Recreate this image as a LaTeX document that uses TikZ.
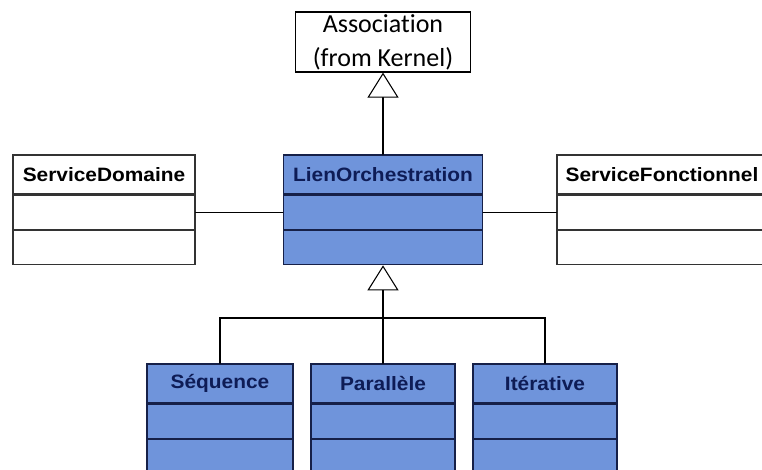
\documentclass[tikz,border=0pt]{standalone}
\usepackage{fontspec}
\usepackage{tikz}
\usetikzlibrary{arrows.meta,positioning}
\usepackage{xcolor}
\newfontfamily\clsfont{Liberation Sans}[FakeStretch=1.08]
\newfontfamily\kernfont{Carlito}[Ligatures=NoCommon]
\definecolor{clsfill}{RGB}{111,148,219}
\definecolor{clsline}{RGB}{22,32,72}
\definecolor{clstext}{RGB}{14,28,86}

\begin{document}
\begin{tikzpicture}[x=0.75pt,y=-0.75pt,line cap=round,
  gen/.style={-{Triangle[open,length=18.75pt,width=23.25pt,fill=white]},line width=0.8pt},
  namebox/.style={draw,line width=1pt,inner sep=0pt,minimum height=29.25pt,
    font=\clsfont\bfseries\fontsize{14.5}{17}\selectfont},
  partbox/.style={draw,line width=1pt,inner sep=0pt,minimum height=25.5pt},
  plaincls/.style={fill=white,draw=black!80,text=black},
  bluecls/.style={fill=clsfill,draw=clsline,text=clstext}]
\useasboundingbox (0,0) rectangle (762,470);
% superclass from the kernel
\node[draw,line width=0.9pt,fill=white,minimum width=131.25pt,minimum height=45pt,inner sep=0pt,
  align=center,font=\kernfont\fontsize{19.5}{25.5}\selectfont] (assoc) at (383,42) {Association\\(from Kernel)};
% middle row
\node[namebox,plaincls,minimum width=136.5pt] (sdname) at (104,174.5) {ServiceDomaine};
\node[partbox,plaincls,minimum width=136.5pt,below=0pt of sdname] (sdattr) {};
\node[partbox,plaincls,minimum width=136.5pt,below=0pt of sdattr] (sdops) {};
\node[namebox,bluecls,minimum width=149.25pt] (lienname) at (383,174.5) {LienOrchestration};
\node[partbox,bluecls,minimum width=149.25pt,below=0pt of lienname] (lienattr) {};
\node[partbox,bluecls,minimum width=149.25pt,below=0pt of lienattr] (lienops) {};
\node[namebox,plaincls,minimum width=157.5pt] (sfname) at (662,174.5) {ServiceFonctionnel};
\node[partbox,plaincls,minimum width=157.5pt,below=0pt of sfname] (sfattr) {};
\node[partbox,plaincls,minimum width=157.5pt,below=0pt of sfattr] (sfops) {};
% subclasses
\node[namebox,bluecls,minimum width=109.5pt] (seqname) at (220,383.5) {Séquence};
\node[partbox,bluecls,minimum width=109.5pt,below=0pt of seqname] (seqattr) {};
\node[partbox,bluecls,minimum width=109.5pt,below=0pt of seqattr] (seqops) {};
\node[namebox,bluecls,minimum width=108pt] (parname) at (383,383.5) {Parallèle};
\node[partbox,bluecls,minimum width=108pt,below=0pt of parname] (parattr) {};
\node[partbox,bluecls,minimum width=108pt,below=0pt of parattr] (parops) {};
\node[namebox,bluecls,minimum width=108pt] (itename) at (545,383.5) {Itérative};
\node[partbox,bluecls,minimum width=108pt,below=0pt of itename] (iteattr) {};
\node[partbox,bluecls,minimum width=108pt,below=0pt of iteattr] (iteops) {};
% links
\draw[line width=0.8pt] (sdattr.east) -- (lienattr.west);
\draw[line width=0.8pt] (lienattr.east) -- (sfattr.west);
\draw[gen] (lienname.north) -- (assoc.south);
\coordinate (fork) at (383,318);
\draw[line width=0.8pt] (seqname.north) -- (seqname.north |- fork) -- (itename.north |- fork) -- (itename.north);
\draw[gen] (parname.north) -- (lienops.south);
\end{tikzpicture}
\end{document}
